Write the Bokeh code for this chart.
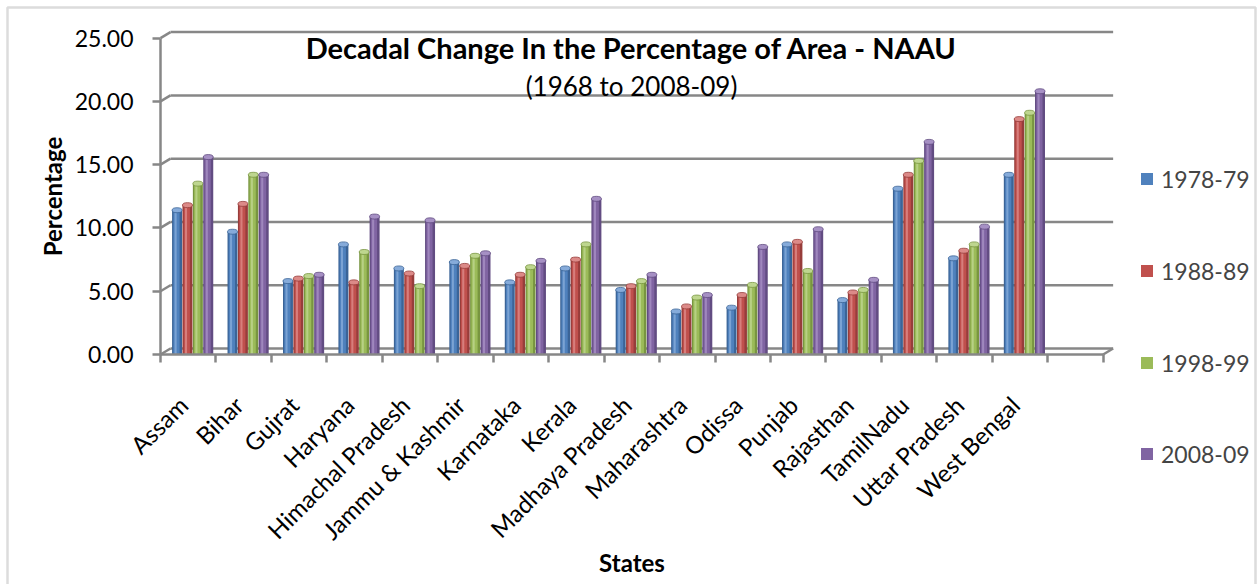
import numpy as np
from bokeh.plotting import figure
from bokeh.models import (Range1d, FixedTicker, Legend, LegendItem, Label,
                          BoxAnnotation, ColumnDataSource, NumeralTickFormatter)
from bokeh.transform import dodge
from bokeh.embed import file_html
from bokeh.resources import INLINE

# ---- data -------------------------------------------------------------
states = ["Assam", "Bihar", "Gujrat", "Haryana", "Himachal Pradesh",
          "Jammu & Kashmir", "Karnataka", "Kerala", "Madhaya Pradesh",
          "Maharashtra", "Odissa", "Punjab", "Rajasthan", "TamilNadu",
          "Uttar Pradesh", "West Bengal"]
periods = ["1978-79", "1988-89", "1998-99", "2008-09"]
pct_1978 = [11.4, 9.7, 5.8, 8.7, 6.8, 7.3, 5.7, 6.8, 5.1, 3.4, 3.7, 8.7, 4.3, 13.1, 7.6, 14.2]
pct_1988 = [11.8, 11.9, 6.0, 5.7, 6.4, 7.0, 6.3, 7.5, 5.4, 3.8, 4.7, 8.9, 4.9, 14.2, 8.2, 18.6]
pct_1998 = [13.5, 14.2, 6.2, 8.1, 5.4, 7.8, 6.9, 8.7, 5.8, 4.5, 5.5, 6.6, 5.1, 15.3, 8.7, 19.1]
pct_2008 = [15.6, 14.2, 6.3, 10.9, 10.6, 8.0, 7.4, 12.3, 6.3, 4.7, 8.5, 9.9, 5.9, 16.8, 10.1, 20.8]
y_ticks = [0, 5, 10, 15, 20, 25]

# ---- styling ------------------------------------------------------------
FONT = "Lato"
AXIS_GREY = "#878787"
fills = ["#4F81BD", "#C0504D", "#9BBB59", "#8064A2"]
shades = ["#3B6497", "#973D3B", "#789540", "#624C82"]
glints = ["#86ABDA", "#DC8A88", "#BED68F", "#A690C4"]

W, H = 1260, 584
n_slots = len(states) + 1          # one empty slot after the last state
depth_dx, depth_dy = 0.18, 0.474   # offset of the back wall (x units, y units)
label_nudge = 0.09                 # slanted labels sit slightly left of slot centre

# The frame fills the whole canvas; the axes are pinned inside it, so the
# plot area, legend and chart border can all share one drawing surface.
slot_px, unit_px = 55.45, 12.656
axis_left_px, axis_bottom_px = 160, 354
x_start = -0.5 - axis_left_px / slot_px
x_end = x_start + W / slot_px
y_start = -(H - axis_bottom_px) / unit_px
y_end = y_start + H / unit_px

src = ColumnDataSource(dict(x=np.arange(len(states)), s=states,
                            p0=pct_1978, p1=pct_1988, p2=pct_1998, p3=pct_2008))

p = figure(width=W, height=H, output_backend="svg", toolbar_location=None,
           x_range=Range1d(x_start, x_end), y_range=Range1d(y_start, y_end),
           min_border=0, outline_line_color=None,
           background_fill_color="white", border_fill_color="white")
p.xgrid.visible = False
p.ygrid.visible = False

# ---- 3D-style walls: back gridlines, side-wall diagonals, floor -------------
x_lo, x_hi = -0.5, n_slots - 0.5
gy = [t + depth_dy for t in y_ticks]
p.segment(x0=[x_lo + depth_dx] * len(y_ticks), y0=gy, x1=[x_hi + depth_dx] * len(y_ticks), y1=gy,
          line_color=AXIS_GREY, line_width=2.5)
p.segment(x0=[x_lo] * len(y_ticks), y0=y_ticks, x1=[x_lo + depth_dx] * len(y_ticks), y1=gy,
          line_color=AXIS_GREY, line_width=2.5)
p.segment(x0=[x_hi], y0=[0], x1=[x_hi + depth_dx], y1=[depth_dy],
          line_color=AXIS_GREY, line_width=2.5)

# ---- cylinder-like columns ----------------------------------------------
bw = 0.1875
shift = 0.08
legend_renderers = []
for i, col in enumerate(["p0", "p1", "p2", "p3"]):
    off = shift + (i - 1.5) * bw
    p.vbar(x=dodge("x", off, range=p.x_range), top=col, bottom=0, width=bw * 0.96,
           source=src, fill_color=shades[i], line_color=None)
    r = p.vbar(x=dodge("x", off - bw * 0.06, range=p.x_range), top=col, bottom=0,
               width=bw * 0.6, source=src, fill_color=fills[i], line_color=None)
    p.vbar(x=dodge("x", off - bw * 0.14, range=p.x_range), top=col, bottom=0,
           width=bw * 0.2, source=src, fill_color=glints[i], line_color=None, fill_alpha=0.8)
    p.ellipse(x=dodge("x", off, range=p.x_range), y=col, width=bw * 0.96, height=5,
              height_units="screen", source=src, fill_color=glints[i],
              line_color=shades[i], line_width=0.8)
    legend_renderers.append(r)

# ---- axes (pinned at the data origin of the chart) ---------------------------
label_ticks = [round(k - label_nudge, 2) for k in range(len(states))]
xa = p.xaxis[0]
xa.fixed_location = 0
xa.ticker = FixedTicker(ticks=label_ticks,
                        minor_ticks=[k - 0.5 for k in range(n_slots + 1)])
xa.major_label_overrides = {t: s for t, s in zip(label_ticks, states)}
xa.bounds = (x_lo, x_hi)
xa.major_label_orientation = np.pi / 4
xa.major_tick_out = 0
xa.major_tick_in = 0
xa.minor_tick_out = 8
xa.minor_tick_in = 0
xa.minor_tick_line_color = AXIS_GREY
xa.minor_tick_line_width = 2.5
xa.axis_line_color = AXIS_GREY
xa.axis_line_width = 2.5
xa.major_label_standoff = 38
xa.major_label_text_font = FONT
xa.major_label_text_font_size = "24px"
xa.major_label_text_color = "black"
xa.axis_label = "States"
xa.axis_label_text_font = FONT
xa.axis_label_text_font_style = "bold"
xa.axis_label_text_font_size = "24px"
xa.axis_label_text_color = "black"
xa.axis_label_standoff = -10

ya = p.yaxis[0]
ya.fixed_location = -0.5
ya.ticker = FixedTicker(ticks=y_ticks, minor_ticks=[])
ya.formatter = NumeralTickFormatter(format="0.00")
ya.bounds = (0, 25)
ya.major_tick_out = 8
ya.major_tick_in = 0
ya.major_tick_line_color = AXIS_GREY
ya.major_tick_line_width = 2.5
ya.axis_line_color = AXIS_GREY
ya.axis_line_width = 2.5
ya.major_label_standoff = 19
ya.major_label_text_font = FONT
ya.major_label_text_font_size = "23px"
ya.major_label_text_color = "black"
ya.axis_label = "Percentage"
ya.axis_label_text_font = FONT
ya.axis_label_text_font_style = "bold"
ya.axis_label_text_font_size = "24px"
ya.axis_label_text_color = "black"
ya.axis_label_standoff = 5

# ---- titles drawn inside the plotting area -----------------------------------
p.add_layout(Label(x=631, y=H - 47, x_units="screen", y_units="screen",
                   text="Decadal Change In the Percentage of Area - NAAU",
                   text_font=FONT, text_font_style="bold", text_font_size="29px",
                   text_align="center", text_baseline="middle", text_color="black"))
p.add_layout(Label(x=631, y=H - 85, x_units="screen", y_units="screen",
                   text="(1968 to 2008-09)", text_font=FONT, text_font_size="26px",
                   text_align="center", text_baseline="middle", text_color="black"))

# ---- legend: one entry per block, spaced down the right side -----------------
legend_mid = [178.7, 270.5, 362.7, 453.5]
item_h = 28
for r, lab, cy in zip(legend_renderers, periods, legend_mid):
    lg = Legend(items=[LegendItem(label=lab, renderers=[r])],
                location=(1139, H - cy - item_h / 2),
                orientation="vertical", padding=0, margin=0, spacing=0,
                glyph_width=15, glyph_height=15, label_standoff=7,
                label_text_font=FONT, label_text_font_size="23px",
                border_line_color=None, background_fill_alpha=0)
    p.add_layout(lg)

# ---- outer chart border ------------------------------------------------------
p.add_layout(BoxAnnotation(left=7, right=1255, top=7, bottom=600,
                           left_units="canvas", right_units="canvas",
                           top_units="canvas", bottom_units="canvas",
                           fill_alpha=0, line_color="#8C8C8C", line_width=2.5))

open("out.html", "w").write(file_html(p, INLINE))
